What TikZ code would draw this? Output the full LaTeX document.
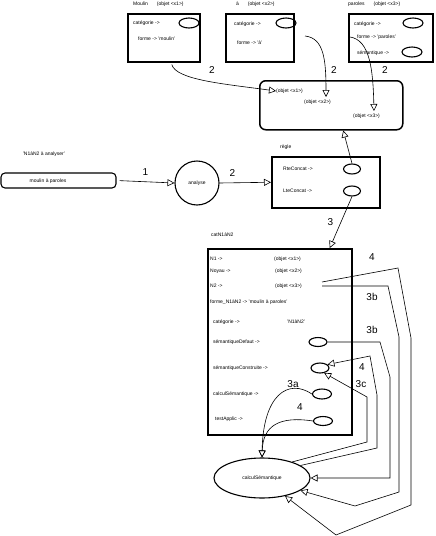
\documentclass[tikz,border=0pt]{standalone}
\usepackage{fontspec}
\setmainfont{Liberation Sans}
\usetikzlibrary{arrows.meta,positioning,calc,shapes}

\tikzset{
	boite/.style={draw, line width=1.5pt, anchor=north west, inner sep=0pt},
	ovale/.style={draw, ellipse, line width=1.1pt, minimum width=18pt, minimum height=9pt, inner sep=0pt},
	petit/.style={font=\fontsize{5}{6}\selectfont, inner sep=0pt, anchor=west},
	num/.style={font=\fontsize{10}{12}\selectfont\rmfamily},
	fleche/.style={-{Triangle[open,length=7pt,width=7pt]}, line width=0.6pt},
	fil/.style={line width=0.6pt},
}

\begin{document}
\begin{tikzpicture}[x=1pt,y=-1pt]
	\useasboundingbox (0,0) rectangle (436,536);
	% les trois objets
	\node[boite, minimum width=72pt, minimum height=48pt] (moulin) at (127,13) {};
	\node[petit] at (133,4) {Moulin\hspace{9pt}(objet <x1>)};
	\node[petit] at (133,23) {catégorie ->};
	\node[ovale, minimum width=20pt, minimum height=10pt] (catMoulin) at (189,23) {};
	\node[petit] at (138,39) {forme -> 'moulin'};

	\node[boite, minimum width=68pt, minimum height=48pt] (a) at (225,13) {};
	\node[petit] at (236,4) {à\hspace{9pt}(objet <x2>)};
	\node[petit] at (234,24) {catégorie ->};
	\node[ovale, minimum width=20pt, minimum height=10pt] (catA) at (286,23) {};
	\node[petit] at (237,43) {forme -> 'à'};

	\node[boite, minimum width=84pt, minimum height=48pt] (paroles) at (348,13) {};
	\node[petit] at (348,4) {paroles\hspace{9pt}(objet <x3>)};
	\node[petit] at (354,24) {catégorie ->};
	\node[ovale, minimum width=20pt, minimum height=10pt] (catParoles) at (413,23) {};
	\node[petit] at (357,37) {forme -> 'paroles'};
	\node[petit] at (357,53) {sémantique ->};
	\node[ovale, minimum width=20pt, minimum height=10pt] (semParoles) at (412,52) {};

	% la pile
	\node[boite, rounded corners=6pt, minimum width=143pt, minimum height=49pt] (pile) at (259,80) {};
	\node[petit] (px1) at (276,91) {(objet <x1>)};
	\node[petit] (px2) at (304,102) {(objet <x2>)};
	\node[petit] (px3) at (353,116) {(objet <x3>)};
	\coordinate (entreeX2) at (326,97);
	\coordinate (entreeX3) at (374,111);
	\coordinate (sortieA) at (305,36);
	\coordinate (sortieP) at (350,37);
	\draw[fleche] ($(moulin.south)+(8,2)$) .. controls (176,80) and (225,84) .. (px1.west);
	\draw[fleche] (sortieA) .. controls (324,38) and (326,60) .. (entreeX2);
	\draw[fleche] (sortieP) .. controls (370,40) and (373,70) .. (entreeX3);
	\node[num] at (212,70) {2};
	\node[num] at (334,70) {2};
	\node[num] at (385,70) {2};

	% analyse
	\node[petit, anchor=center] at (44,154) {'N1àN2 à analyser'};
	\node[draw, rounded corners=4pt, line width=1.1pt, minimum width=115pt, minimum height=15pt, inner sep=0pt] (saisie) at (58.5,180.5) {};
	\node[petit, anchor=center] at (48,181) {moulin à paroles};
	\node[draw, circle, line width=1.1pt, minimum size=44pt, inner sep=0pt, font=\fontsize{5}{6}\selectfont] (analyse) at (197,183) {analyse};
	\node[boite, minimum width=108pt, minimum height=51pt] (regle) at (271,156) {};
	\node[petit] at (280,147) {règle};
	\node[petit] at (283,169) {RteConcat ->};
	\node[ovale, minimum width=17pt, minimum height=10pt] (rte) at (352,169) {};
	\node[petit] at (283,191) {LteConcat ->};
	\node[ovale, minimum width=17pt, minimum height=10pt] (lte) at (352,191) {};
	\draw[fleche, shorten <=3pt] (saisie.east) -- (analyse.west) node[num, midway, above=3pt] {1};
	\draw[fleche] (analyse.east) -- (regle.west) node[num, pos=0.25, above=3pt] {2};
	\draw[fleche] (rte.north) -- ($(pile.south)+(12,0)$);

	% catN1aN2
	\node[boite, minimum width=144pt, minimum height=186pt] (cat) at (207,248) {};
	\node[petit] at (211,235) {catN1àN2};
	\draw[fleche] (lte.south) -- ($(cat.north)+(50,0)$) node[num, midway, left=4pt] {3};
	\node[petit] at (210,259) {N1 ->};
	\node[petit] at (274,259) {(objet <x1>)};
	\node[petit] at (210,271) {Noyau ->};
	\node[petit] at (275,271) {(objet <x2>)};
	\node[petit] at (210,286) {N2 ->};
	\node[petit] (cx3) at (275,286) {(objet <x3>)};
	\node[petit] at (210,302) {forme\_N1àN2 -> 'moulin à paroles'};
	\node[petit] at (213,322) {catégorie ->};
	\node[petit] at (287,322) {'N1àN2'};
	\node[petit] at (213,342) {sémantiqueDefaut ->};
	\node[ovale] (semDef) at (318,342) {};
	\node[petit] at (213,368) {sémantiqueConstruite ->};
	\node[ovale, minimum height=10pt] (semCons) at (320,368) {};
	\node[petit] at (213,394) {calculSémantique ->};
	\node[ovale, minimum width=19pt, minimum height=10pt] (calc) at (322,394) {};
	\node[petit] at (215,419) {testApplic ->};
	\node[ovale, minimum width=19pt] (test) at (323,421) {};

	% calcul
	\node[draw, ellipse, line width=1.1pt, minimum width=96pt, minimum height=40pt, inner sep=0pt, font=\fontsize{5}{6}\selectfont] (calcSem) at (262,478) {calculSémantique};
	\coordinate (depN1) at (322,282);
	\coordinate (depN2) at (322,286);
	\draw[fleche] (depN1) -- (398,268) -- (411,338) -- (411,505) -- (336,535) -- (calcSem.-38);
	\draw[fleche] (depN2) -- (388,286) -- (399,337) -- (399,492) -- (355,506) -- (calcSem.-18);
	\draw[fleche] (semDef.east) -- (380,342) -- (390,377) -- (390,478) -- (calcSem.east);
	\draw[fleche] (calcSem.18) -- (377,448) -- (377,395) -- (370,356) -- (semCons.25);
	\draw[fleche] (calcSem.28) -- (367,442) -- (367,397) -- (semCons.-50);
	\draw[fleche] (calc.west) .. controls (288,378) and (263,395) .. (calcSem.north);
	\draw[fleche] (test.west) .. controls (280,416) and (263,425) .. (calcSem.north);
	\node[num] at (372,257) {4};
	\node[num] at (372,297) {3b};
	\node[num] at (372,330) {3b};
	\node[num] at (362,367) {4};
	\node[num] at (361,384) {3c};
	\node[num] at (293,384) {3a};
	\node[num] at (300,407) {4};
\end{tikzpicture}
\end{document}
